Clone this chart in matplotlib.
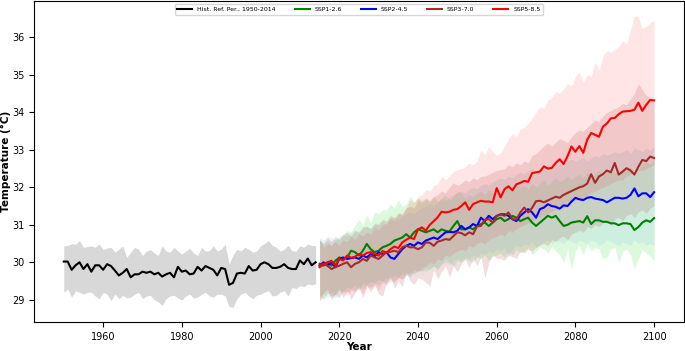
import numpy as np
import matplotlib
matplotlib.use("Agg")
import matplotlib.pyplot as plt

# historical reference period 1950-2014
hist_years = list(range(1950, 2015))
hist_mean = [30.02, 30.02, 29.80, 29.92, 30.00, 29.82, 29.95, 29.75, 29.92, 29.92,
             29.80, 29.95, 29.90, 29.78, 29.65, 29.72, 29.82, 29.60, 29.68, 29.68,
             29.75, 29.72, 29.75, 29.68, 29.72, 29.62, 29.68, 29.72, 29.60, 29.88,
             29.75, 29.78, 29.68, 29.70, 29.88, 29.78, 29.90, 29.85, 29.80, 29.65,
             29.85, 29.82, 29.40, 29.45, 29.70, 29.72, 29.70, 29.90, 29.78, 29.80,
             29.95, 30.00, 29.95, 29.85, 29.85, 29.88, 29.95, 29.85, 29.82, 29.82,
             30.05, 29.95, 30.10, 29.92, 30.00]
hist_hi = [30.44, 30.45, 30.50, 30.48, 30.58, 30.40, 30.42, 30.44, 30.40, 30.49,
           30.34, 30.38, 30.40, 30.27, 30.35, 30.44, 30.13, 30.27, 30.40, 30.35,
           30.18, 30.30, 30.34, 30.25, 30.18, 30.44, 30.30, 30.27, 30.40, 30.30,
           30.22, 30.30, 30.37, 30.25, 30.18, 30.40, 30.30, 30.31, 30.44, 30.30,
           30.35, 30.49, 29.95, 30.20, 30.35, 30.30, 30.40, 30.35, 30.27, 30.30,
           30.44, 30.50, 30.58, 30.45, 30.40, 30.30, 30.35, 30.45, 30.31, 30.30,
           30.44, 30.40, 30.49, 30.45, 30.44]
hist_lo = [29.20, 29.29, 29.07, 29.24, 29.20, 29.15, 29.20, 29.20, 29.10, 29.03,
           29.20, 29.15, 28.98, 29.15, 29.03, 29.12, 29.05, 29.07, 29.15, 29.20,
           29.03, 29.10, 29.12, 29.00, 28.94, 28.85, 29.03, 29.10, 29.12, 29.05,
           28.99, 29.10, 29.15, 29.05, 29.07, 29.15, 29.20, 29.10, 29.07, 29.15,
           29.15, 29.10, 28.82, 28.80, 29.03, 29.15, 29.20, 29.10, 29.03, 29.12,
           29.15, 29.20, 29.24, 29.10, 29.12, 29.20, 29.24, 29.10, 29.33, 29.30,
           29.38, 29.35, 29.42, 29.40, 29.42]

# scenarios 2015-2100
ssp_years = list(range(2015, 2101))

ssp126_mean = [29.96, 29.91, 30.00, 29.91, 30.04, 30.13,
               30.09, 30.13, 30.31, 30.27, 30.18, 30.31, 30.49, 30.35, 30.27, 30.31,
               30.40, 30.44, 30.49, 30.58, 30.62, 30.66, 30.75, 30.66, 30.80, 30.88,
               30.84, 30.80, 30.84, 30.88, 30.80, 30.88, 30.84, 30.82, 30.97, 31.10,
               30.88, 30.88, 30.93, 30.88, 30.97, 31.02, 31.06, 30.97, 31.06, 31.15,
               31.19, 31.10, 31.15, 31.24, 31.19, 31.10, 31.15, 31.19, 31.06, 30.97,
               31.06, 31.15, 31.24, 31.19, 31.24, 31.10, 30.97, 31.00, 31.06, 31.08,
               31.10, 31.06, 31.23, 31.02, 31.12, 31.12, 31.08, 31.08, 31.04, 31.04,
               30.99, 31.04, 31.04, 31.02, 30.86, 30.94, 31.06, 31.12, 31.08, 31.18]
ssp126_hi = [30.60, 30.50, 30.55, 30.45, 30.60, 30.65,
             30.70, 30.85, 30.80, 31.00, 31.14, 31.00, 31.27, 31.05, 31.35, 31.30,
             31.40, 31.40, 31.55, 31.45, 31.67, 31.50, 31.55, 31.77, 31.60, 31.72,
             31.65, 31.70, 31.60, 31.75, 31.62, 31.70, 31.80, 31.65, 31.75, 31.90,
             31.85, 31.70, 31.80, 31.75, 31.85, 31.90, 31.80, 31.95, 31.85, 32.00,
             31.90, 32.00, 32.05, 31.95, 32.10, 32.00, 32.05, 31.95, 32.10, 32.00,
             32.10, 32.20, 32.05, 32.15, 32.25, 32.15, 32.20, 32.30, 32.20, 32.30,
             32.35, 32.25, 32.40, 32.30, 32.35, 32.45, 32.30, 32.40, 32.50, 32.40,
             32.35, 32.50, 32.45, 32.55, 32.40, 32.50, 32.60, 32.70, 32.60, 32.75]
ssp126_lo = [29.10, 29.00, 29.15, 29.20, 29.10, 29.25,
             29.20, 29.35, 29.30, 29.40, 29.25, 29.45, 29.40, 29.50, 29.45, 29.55,
             29.50, 29.60, 29.55, 29.65, 29.60, 29.70, 29.65, 29.75, 29.70, 29.80,
             29.75, 29.85, 29.80, 29.90, 29.80, 29.95, 30.10, 30.00, 29.90, 30.05,
             30.00, 30.10, 30.05, 30.00, 30.15, 30.10, 30.20, 30.05, 30.15, 30.20,
             30.25, 30.13, 30.30, 30.20, 30.35, 30.25, 30.30, 30.40, 30.20, 30.30,
             30.40, 30.35, 30.25, 30.43, 30.30, 30.20, 30.00, 30.35, 29.81, 30.30,
             30.45, 30.20, 30.50, 30.30, 30.40, 30.35, 30.10, 30.13, 30.35, 30.40,
             30.00, 30.30, 30.35, 30.20, 29.81, 30.10, 30.35, 30.25, 30.15, 30.03]

ssp245_mean = [29.91, 30.00, 29.91, 30.00, 29.87, 30.09,
               30.13, 30.09, 30.11, 30.13, 30.09, 30.18, 30.13, 30.22, 30.16, 30.27,
               30.22, 30.27, 30.13, 30.09, 30.22, 30.35, 30.44, 30.49, 30.44, 30.53,
               30.49, 30.58, 30.62, 30.66, 30.62, 30.71, 30.80, 30.81, 30.80, 30.84,
               30.97, 30.88, 30.93, 31.02, 30.97, 31.19, 31.10, 31.24, 31.15, 31.24,
               31.28, 31.28, 31.24, 31.15, 31.10, 31.24, 31.33, 31.42, 31.33, 31.19,
               31.42, 31.46, 31.55, 31.50, 31.48, 31.43, 31.52, 31.50, 31.62, 31.72,
               31.68, 31.66, 31.72, 31.74, 31.70, 31.68, 31.66, 31.60, 31.66, 31.72,
               31.72, 31.70, 31.72, 31.80, 31.97, 31.76, 31.84, 31.84, 31.74, 31.87]
ssp245_hi = [30.65, 30.60, 30.70, 30.65, 30.60, 30.70,
             30.75, 30.70, 30.80, 30.85, 30.80, 30.90, 30.95, 30.90, 31.00, 31.05,
             31.10, 31.00, 31.15, 31.20, 31.15, 31.25, 31.30, 31.35, 31.30, 31.40,
             31.45, 31.50, 31.55, 31.50, 31.60, 31.70, 31.65, 31.75, 31.80, 31.85,
             31.90, 31.85, 31.95, 32.00, 31.95, 32.05, 32.10, 32.05, 32.15, 32.20,
             32.25, 32.20, 32.30, 32.25, 32.35, 32.40, 32.35, 32.45, 32.50, 32.40,
             32.50, 32.55, 32.60, 32.50, 32.60, 32.65, 32.60, 32.70, 32.75, 32.70,
             32.75, 32.80, 32.70, 32.80, 32.85, 32.80, 32.90, 32.85, 32.90, 32.95,
             32.90, 32.95, 33.00, 32.90, 33.05, 33.00, 32.95, 33.05, 33.00, 33.10]
ssp245_lo = [29.10, 29.15, 29.05, 29.10, 29.05, 29.10,
             29.25, 29.20, 29.30, 29.25, 29.35, 29.30, 29.40, 29.35, 29.45, 29.40,
             29.50, 29.45, 29.55, 29.50, 29.60, 29.55, 29.65, 29.60, 29.70, 29.75,
             29.80, 29.75, 29.85, 29.90, 29.85, 29.95, 30.00, 29.95, 30.05, 30.10,
             30.05, 30.15, 30.10, 30.20, 30.15, 30.25, 30.20, 30.30, 30.25, 30.35,
             30.30, 30.40, 30.13, 30.35, 30.45, 30.40, 30.50, 30.45, 30.55, 30.39,
             30.50, 30.55, 30.60, 30.50, 30.60, 30.55, 30.50, 30.60, 30.55, 30.50,
             30.60, 30.55, 30.50, 30.60, 30.55, 30.45, 30.50, 30.60, 30.55, 30.50,
             30.45, 30.55, 30.50, 30.45, 30.60, 30.50, 30.55, 30.45, 30.50, 30.45]

ssp370_mean = [29.91, 29.96, 29.91, 29.82, 29.87, 29.91,
               29.96, 30.00, 29.87, 29.96, 30.00, 30.09, 30.04, 30.18, 30.13, 30.09,
               30.18, 30.27, 30.28, 30.31, 30.27, 30.40, 30.44, 30.40, 30.40, 30.35,
               30.40, 30.53, 30.52, 30.44, 30.55, 30.58, 30.62, 30.60, 30.70, 30.80,
               30.78, 30.72, 30.80, 30.75, 30.96, 30.97, 31.14, 31.15, 31.06, 31.23,
               31.28, 31.24, 31.33, 31.15, 31.14, 31.33, 31.46, 31.33, 31.45, 31.63,
               31.64, 31.60, 31.65, 31.70, 31.75, 31.72, 31.80, 31.85, 31.90, 31.95,
               32.00, 32.03, 32.10, 32.35, 32.12, 32.29, 32.35, 32.45, 32.40, 32.65,
               32.34, 32.42, 32.51, 32.45, 32.34, 32.55, 32.73, 32.70, 32.82, 32.78]
ssp370_hi = [30.60, 30.50, 30.65, 30.55, 30.70, 30.60,
             30.75, 30.80, 30.70, 30.85, 30.80, 30.95, 30.96, 30.90, 31.05, 31.00,
             31.15, 31.10, 31.25, 31.20, 31.32, 31.30, 31.45, 31.50, 31.45, 31.67,
             31.60, 31.70, 31.65, 31.76, 31.80, 31.90, 31.85, 32.00, 32.12, 32.05,
             32.10, 32.20, 32.15, 32.25, 32.20, 32.29, 32.30, 32.35, 32.40, 32.45,
             32.47, 32.50, 32.60, 32.55, 32.65, 32.60, 32.70, 32.65, 32.85, 32.90,
             33.00, 33.10, 33.18, 33.10, 33.20, 33.30, 33.25, 33.20, 33.35, 33.45,
             33.53, 33.50, 33.60, 33.70, 33.80, 33.75, 33.90, 34.00, 34.05, 34.10,
             34.15, 34.24, 34.20, 34.35, 34.50, 34.77, 34.60, 34.45, 34.40, 34.30]
ssp370_lo = [28.97, 29.20, 29.28, 29.00, 29.15, 29.30,
             29.05, 29.25, 29.00, 29.20, 29.35, 29.05, 29.37, 29.20, 29.40, 29.15,
             29.10, 29.45, 29.64, 29.30, 29.50, 29.35, 29.73, 29.50, 29.40, 29.60,
             29.55, 29.46, 29.37, 29.80, 29.55, 29.75, 29.90, 29.60, 29.90, 29.75,
             29.95, 30.08, 29.85, 30.10, 29.90, 30.15, 29.56, 30.00, 30.20, 30.10,
             30.10, 30.05, 30.20, 30.15, 30.10, 30.30, 30.25, 30.35, 30.30, 30.40,
             30.45, 30.50, 30.45, 30.60, 30.55, 30.65, 30.70, 30.60, 30.75, 30.80,
             30.85, 30.80, 30.95, 30.90, 31.00, 30.95, 31.05, 31.10, 31.00, 31.15,
             31.20, 31.10, 31.25, 31.30, 31.20, 31.35, 31.40, 31.30, 31.45, 31.50]

ssp585_mean = [29.87, 29.95, 30.00, 30.04, 29.92, 30.09,
               30.05, 30.18, 30.12, 30.15, 30.22, 30.18, 30.25, 30.27, 30.22, 30.18,
               30.30, 30.26, 30.35, 30.42, 30.38, 30.53, 30.60, 30.66, 30.62, 30.88,
               30.93, 30.85, 31.00, 31.10, 31.20, 31.35, 31.33, 31.35, 31.40, 31.42,
               31.50, 31.60, 31.40, 31.55, 31.60, 31.64, 31.62, 31.62, 31.60, 31.98,
               31.73, 31.95, 32.03, 31.92, 32.08, 32.12, 32.17, 32.15, 32.38, 32.40,
               32.42, 32.56, 32.50, 32.52, 32.65, 32.75, 32.62, 32.83, 33.09, 32.95,
               33.10, 32.92, 33.27, 33.45, 33.40, 33.35, 33.62, 33.70, 33.84, 33.85,
               33.95, 34.02, 34.03, 34.04, 34.07, 34.26, 34.04, 34.20, 34.33, 34.32]
ssp585_hi = [30.60, 30.40, 30.50, 30.45, 30.55, 30.45,
             30.60, 30.55, 30.70, 30.60, 30.75, 30.70, 30.80, 30.75, 30.95, 30.85,
             31.00, 31.05, 31.20, 31.10, 31.30, 31.25, 31.45, 31.67, 31.60, 31.75,
             31.80, 31.94, 31.90, 32.05, 32.10, 32.29, 32.20, 32.30, 32.42, 32.47,
             32.50, 32.55, 32.65, 32.60, 32.70, 33.00, 32.85, 33.09, 32.95, 32.85,
             32.92, 33.10, 33.30, 33.44, 33.35, 33.55, 33.60, 33.70, 33.85, 34.00,
             34.15, 34.10, 34.33, 34.40, 34.55, 34.50, 34.64, 34.77, 34.70, 34.95,
             35.08, 34.81, 35.00, 34.95, 35.34, 35.12, 35.50, 35.65, 35.60, 35.68,
             35.75, 35.92, 35.83, 36.20, 36.58, 36.55, 36.23, 36.30, 36.40, 36.45]
ssp585_lo = [29.00, 29.05, 29.20, 29.10, 29.15, 29.05,
             29.20, 29.10, 29.25, 29.20, 29.30, 29.15, 29.35, 29.30, 29.40, 29.25,
             29.45, 29.40, 29.50, 29.45, 29.60, 29.55, 29.70, 29.65, 29.80, 29.75,
             29.85, 29.90, 30.00, 29.95, 30.10, 30.05, 30.20, 30.15, 30.25, 30.30,
             30.35, 30.30, 30.45, 30.40, 30.50, 30.55, 30.50, 30.60, 30.65, 30.70,
             30.75, 30.70, 30.85, 30.80, 30.90, 30.95, 31.00, 31.05, 31.10, 31.15,
             31.20, 31.25, 31.30, 31.35, 31.40, 31.45, 31.45, 31.55, 31.60, 31.65,
             31.70, 31.70, 31.80, 31.85, 31.90, 31.95, 32.00, 32.05, 32.10, 32.15,
             32.20, 32.20, 32.30, 32.35, 32.40, 32.45, 32.45, 32.50, 32.55, 32.60]

scenarios = [
    ("SSP1-2.6", ssp126_mean, ssp126_lo, ssp126_hi, "green", "lightgreen", 0.3),
    ("SSP2-4.5", ssp245_mean, ssp245_lo, ssp245_hi, "blue", "lightblue", 0.3),
    ("SSP3-7.0", ssp370_mean, ssp370_lo, ssp370_hi, "brown", "brown", 0.15),
    ("SSP5-8.5", ssp585_mean, ssp585_lo, ssp585_hi, "red", "red", 0.1),
]

fig = plt.figure(figsize=(6.85, 3.51), dpi=100)
ax = fig.add_axes([0.05, 0.083, 0.948, 0.914])

ax.fill_between(hist_years, hist_lo, hist_hi, color="gray", alpha=0.3, linewidth=0)
ax.plot(hist_years, hist_mean, color="black", lw=1.5, label="Hist. Ref. Per., 1950-2014")

for name, mean, lo, hi, c, fc, a in scenarios:
    ax.fill_between(ssp_years, lo, hi, color=fc, alpha=a, linewidth=0)
for name, mean, lo, hi, c, fc, a in scenarios:
    ax.plot(ssp_years, mean, color=c, lw=1.5, label=name)

ax.set_xlabel("Year", fontsize=7.5, fontweight="bold", labelpad=0)
ax.set_ylabel("Temperature (°C)", fontsize=7.5, fontweight="bold", labelpad=1)
ax.tick_params(labelsize=7)
ax.legend(loc="upper center", ncol=5, fontsize=4.5, frameon=True,
          handlelength=2.4, columnspacing=3.0, borderaxespad=0.5)

plt.savefig("out.png", dpi=100)
plt.close()
